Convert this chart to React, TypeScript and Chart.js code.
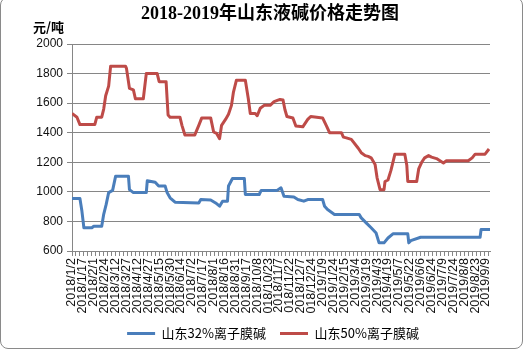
import React, { useEffect, useRef } from 'react';
import { Chart, registerables } from 'chart.js';

Chart.register(...registerables);

// ---------- data ----------
const titleText = '2018-2019年山东液碱价格走势图';
const unitText = '元/吨';

// category labels (one every 11 trading days)
const dateLabels = [
  '2018/1/2', '2018/1/17', '2018/2/1', '2018/2/24', '2018/3/12', '2018/3/27',
  '2018/4/12', '2018/4/27', '2018/5/15', '2018/5/30', '2018/6/14', '2018/7/2',
  '2018/7/17', '2018/8/1', '2018/8/16', '2018/8/31', '2018/9/17', '2018/10/8',
  '2018/10/23', '2018/11/7', '2018/11/22', '2018/12/7', '2018/12/24', '2019/1/9',
  '2019/1/24', '2019/2/15', '2019/3/4', '2019/3/19', '2019/4/3', '2019/4/19',
  '2019/5/7', '2019/5/22', '2019/6/6', '2019/6/24', '2019/7/9', '2019/7/24',
  '2019/8/8', '2019/8/23', '2019/9/9',
];
const LABEL_EVERY = 11; // trading days between labels
const TICK_EVERY = 4; // trading days between tick marks
const LAST_DAY = 422;

const seriesNames = ['山东32%离子膜碱', '山东50%离子膜碱'];

// 32% membrane caustic soda: trading-day index and price (yuan/ton)
const blueDays = [
  0, 8, 10, 12, 20, 22, 30, 32, 34.5, 37, 41, 44, 57, 58, 62, 75, 76, 84, 87.5, 94,
  96, 99, 104, 128, 130, 140, 145, 149, 152, 157, 158, 162, 174, 175, 189, 191, 207,
  211, 214, 224, 228, 234, 238, 253, 255, 258, 265, 290, 292, 297, 302, 307, 310, 315,
  319, 324, 339, 340, 342, 352, 412, 413, 422,
];
const bluePrices = [
  955, 955, 870, 757, 757, 767, 767, 848, 915, 995, 1010, 1105, 1105, 1015, 995, 995,
  1075, 1065, 1040, 1040, 995, 960, 930, 925, 948, 945, 925, 903, 937, 937, 1040, 1090,
  1090, 982, 982, 1010, 1010, 1028, 970, 965, 948, 937, 948, 948, 903, 880, 847, 847,
  824, 790, 757, 722, 655, 655, 688, 716, 716, 655, 670, 693, 693, 745, 745,
];

// 50% membrane caustic soda: trading-day index and price (yuan/ton)
const redDays = [
  0, 5, 8, 23, 25, 30, 32, 34, 37, 39, 54, 55, 58, 62, 64, 72, 75, 86, 88, 95, 97, 99,
  109, 111, 114, 124, 128, 131, 140, 143, 146, 149, 151, 155, 158, 161, 163, 166, 175,
  178, 180, 185, 187, 190, 194, 200, 204, 210, 213, 215, 217, 223, 226, 233, 238, 241,
  253, 257, 260, 272, 274, 277, 282, 289, 292, 296, 299, 302, 306, 308, 311, 315, 316,
  319, 322, 326, 336, 338, 339, 348, 350, 353, 356, 360, 363, 368, 375, 378, 400, 404,
  407, 417, 421,
];
const redPrices = [
  1530, 1505, 1455, 1455, 1505, 1505, 1560, 1650, 1715, 1850, 1850, 1835, 1700, 1690,
  1630, 1630, 1800, 1800, 1745, 1745, 1520, 1505, 1505, 1450, 1385, 1385, 1450, 1500,
  1500, 1405, 1395, 1360, 1450, 1490, 1525, 1585, 1675, 1755, 1755, 1630, 1530, 1530,
  1515, 1565, 1585, 1585, 1610, 1625, 1622, 1555, 1510, 1500, 1445, 1440, 1490, 1510,
  1500, 1445, 1400, 1400, 1370, 1365, 1355, 1295, 1265, 1245, 1240, 1230, 1185, 1095,
  1015, 1015, 1070, 1080, 1145, 1255, 1255, 1180, 1070, 1070, 1155, 1200, 1230, 1245,
  1235, 1225, 1195, 1210, 1210, 1230, 1255, 1255, 1290,
];

const Y_MIN = 600;
const Y_MAX = 2000;
const Y_STEP = 100;

const BLUE = '#4a7ebb';
const RED = '#be4b48';
const GRID = '#868686';

// ---------- component ----------
export default function App() {
  const canvasRef = useRef<HTMLCanvasElement | null>(null);

  useEffect(() => {
    const canvas = canvasRef.current;
    if (!canvas) return;

    const headerPlugin = {
      id: 'header',
      afterDraw(chart: any) {
        const ctx = chart.ctx;
        ctx.save();
        ctx.fillStyle = '#000';
        ctx.textBaseline = 'middle';
        ctx.textAlign = 'center';
        ctx.font = 'bold 18px "Liberation Serif", "Noto Sans CJK SC", serif';
        ctx.fillText(titleText, 270, 14);
        ctx.textAlign = 'left';
        ctx.font = 'bold 13px "Noto Sans CJK SC", sans-serif';
        ctx.fillText(unitText, 33, 27);
        ctx.restore();
      },
    };

    const chart = new Chart(canvas, {
      type: 'line',
      data: {
        datasets: [
          {
            label: seriesNames[0],
            data: blueDays.map((d, i) => ({ x: d, y: bluePrices[i] })),
            borderColor: BLUE,
            backgroundColor: BLUE,
            borderWidth: 3,
            pointRadius: 0,
            tension: 0,
            borderJoinStyle: 'round',
          },
          {
            label: seriesNames[1],
            data: redDays.map((d, i) => ({ x: d, y: redPrices[i] })),
            borderColor: RED,
            backgroundColor: RED,
            borderWidth: 3,
            pointRadius: 0,
            tension: 0,
            borderJoinStyle: 'round',
          },
        ],
      },
      options: {
        responsive: false,
        animation: false,
        layout: { padding: { left: 22, right: 0, top: 44, bottom: 0 } },
        plugins: {
          tooltip: { enabled: false },
          title: { display: false },
          legend: {
            position: 'bottom',
            labels: {
              boxWidth: 28,
              boxHeight: 3,
              padding: 14,
              color: '#000',
              font: { size: 13, family: '"Noto Sans CJK SC", sans-serif' },
              generateLabels: (c: any) =>
                (Chart.defaults.plugins.legend.labels.generateLabels as any)(c).map(
                  (l: any) => ({ ...l, lineWidth: 0 })
                ),
            },
          },
        },
        scales: {
          x: {
            type: 'linear',
            min: 0,
            max: LAST_DAY,
            afterBuildTicks: (scale: any) => {
              const vals = new Set<number>();
              dateLabels.forEach((_, i) => vals.add(i * LABEL_EVERY));
              for (let v = 0; v <= LAST_DAY; v += TICK_EVERY) vals.add(v);
              scale.ticks = Array.from(vals)
                .sort((a, b) => a - b)
                .map((v) => ({ value: v }));
            },
            afterFit: (scale: any) => {
              scale.height = 62;
            },
            ticks: {
              autoSkip: false,
              minRotation: 90,
              maxRotation: 90,
              padding: 2,
              color: '#111',
              font: { size: 12.5, family: '"Liberation Sans", Arial, sans-serif' },
              callback: (value: any) =>
                Number(value) % LABEL_EVERY === 0 ? dateLabels[Number(value) / LABEL_EVERY] : '',
            },
            grid: {
              drawOnChartArea: false,
              drawTicks: true,
              tickLength: 5,
              tickColor: (ctx: any) =>
                ctx.tick && ctx.tick.value % TICK_EVERY === 0 ? GRID : 'rgba(0,0,0,0)',
            },
            border: { display: true, color: GRID },
          },
          y: {
            type: 'linear',
            min: Y_MIN,
            max: Y_MAX,
            afterFit: (scale: any) => {
              scale.width = 50;
            },
            ticks: {
              stepSize: Y_STEP,
              padding: 4,
              color: '#111',
              font: { size: 12, family: '"Liberation Sans", Arial, sans-serif' },
              callback: (value: any) => String(value),
            },
            grid: { color: GRID, tickLength: 5, tickColor: GRID },
            border: { display: true, color: GRID },
          },
          yRightSpace: {
            type: 'linear',
            position: 'right',
            display: true,
            afterFit: (scale: any) => {
              scale.width = 34;
            },
            ticks: { display: false },
            grid: { display: false },
            border: { display: false },
          },
        },
      },
      plugins: [headerPlugin],
    } as any);

    return () => chart.destroy();
  }, []);

  return (
    <div style={{ position: 'fixed', left: 0, top: 0, width: 524, height: 350, background: '#fff' }}>
      <canvas ref={canvasRef} width={524} height={350} style={{ display: 'block' }} />
      <div
        style={{
          position: 'absolute',
          left: 0,
          top: -3,
          width: 523,
          height: 352,
          boxSizing: 'border-box',
          border: '1px solid #8a8a8a',
          borderRadius: 8,
          pointerEvents: 'none',
        }}
      />
    </div>
  );
}
